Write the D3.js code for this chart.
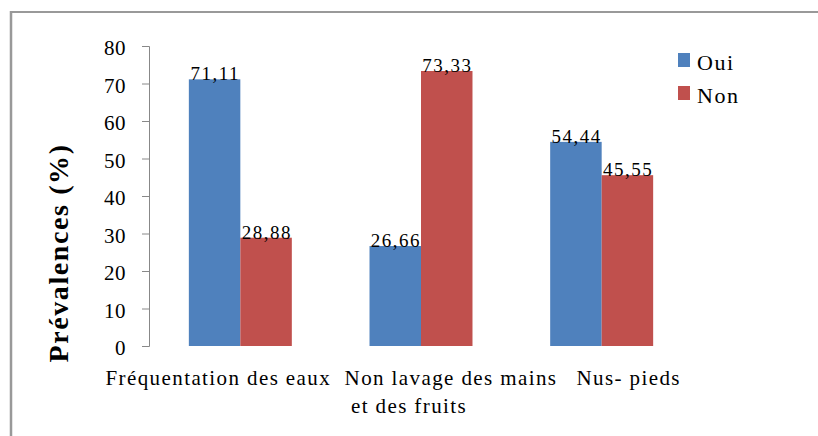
<!DOCTYPE html>
<html>
<head>
<meta charset="utf-8">
<script src="https://cdn.jsdelivr.net/npm/d3@7"></script>
<style>
  html, body { margin: 0; padding: 0; background: #fff; }
  svg { display: block; }
</style>
</head>
<body>
<svg id="chart" width="818" height="436"></svg>
<script>
// Prévalences par facteur de risque
const categories = ["Fréquentation des eaux", "Non lavage des mains|et des fruits", "Nus- pieds"];
const seriesNames = ["Oui", "Non"];
const oui = [71.11, 26.66, 54.44];
const non = [28.88, 73.33, 45.55];
const valueLabels = [["71,11", "26,66", "54,44"], ["28,88", "73,33", "45,55"]];
const yTicks = [0, 10, 20, 30, 40, 50, 60, 70, 80];
const colors = ["#4F81BD", "#C0504D"];

const FONT = "'Liberation Serif', 'Times New Roman', 'DejaVu Serif', serif";

const svg = d3.select("#chart");
const W = 818, H = 436;

// outer frame: only top and left edges visible
svg.append("line").attr("x1", 10).attr("x2", W).attr("y1", 12).attr("y2", 12)
  .attr("stroke", "#999").attr("stroke-width", 2);
svg.append("line").attr("x1", 11).attr("x2", 11).attr("y1", 11).attr("y2", H)
  .attr("stroke", "#999").attr("stroke-width", 2.5);

const plot = { left: 150, right: 692, top: 46, bottom: 346 };

const x0 = d3.scaleBand().domain(d3.range(categories.length))
  .range([plot.left, plot.right]).paddingInner(0.43).paddingOuter(0.215);
const x1 = d3.scaleBand().domain(d3.range(seriesNames.length))
  .range([0, x0.bandwidth()]);
const y = d3.scaleLinear().domain([0, 80]).range([plot.bottom, plot.top]);

// y axis
const yAxis = d3.axisLeft(y).tickValues(yTicks).tickSize(7).tickPadding(16)
  .tickFormat(d3.format("d"));
const gy = svg.append("g").attr("transform", `translate(${plot.left - 1},0)`).call(yAxis)
  .attr("font-family", FONT);
gy.select(".domain").attr("stroke", "#888").attr("d", `M-7,${plot.top}.5H0.5V${plot.bottom}.5H-7`);
gy.selectAll(".tick line").attr("stroke", "#888");
gy.selectAll(".tick text").attr("font-size", 21).attr("dy", "0.42em")
  .attr("font-family", FONT).attr("fill", "#000").attr("letter-spacing", 0.5);

// bars
const data = [oui, non];
const groups = svg.append("g").selectAll("g")
  .data(categories).join("g")
  .attr("transform", (d, i) => `translate(${x0(i)},0)`);

groups.each(function (c, i) {
  const g = d3.select(this);
  seriesNames.forEach((s, j) => {
    const v = data[j][i];
    g.append("rect")
      .attr("x", x1(j)).attr("width", x1.bandwidth())
      .attr("y", y(v)).attr("height", y(0) - y(v))
      .attr("fill", colors[j]);
    g.append("text")
      .attr("x", x1(j) + x1.bandwidth() / 2 + 0.7).attr("y", y(v) + 1)
      .attr("text-anchor", "middle").attr("font-size", 19)
      .attr("letter-spacing", 1.5)
      .attr("font-family", FONT)
      .text(valueLabels[j][i]);
  });
});

// category labels
const labelShift = [-22, 30, 27];
categories.forEach((c, i) => {
  const lines = c.split("|");
  const t = svg.append("text")
    .attr("text-anchor", "middle").attr("font-size", 21)
    .attr("letter-spacing", 1.4)
    .attr("font-family", FONT)
    .attr("y", 385);
  lines.forEach((ln, k) => {
    t.append("tspan")
      .attr("x", x0(i) + x0.bandwidth() / 2 + labelShift[i] + (k > 0 ? -42 : 0))
      .attr("dy", k === 0 ? 0 : 28)
      .text(ln);
  });
});

// y title
svg.append("text")
  .attr("transform", "translate(68,253) rotate(-90)")
  .attr("text-anchor", "middle").attr("font-size", 28).attr("font-weight", "bold")
  .attr("letter-spacing", 1.6)
  .attr("font-family", FONT)
  .text("Prévalences (%)");

// legend
const legend = svg.append("g").attr("transform", "translate(678,53)");
seriesNames.forEach((s, j) => {
  legend.append("rect").attr("x", 0).attr("y", j * 33)
    .attr("width", 12).attr("height", 14).attr("fill", colors[j]);
  legend.append("text").attr("x", 19).attr("y", j * 33 + 17)
    .attr("font-size", 22).attr("letter-spacing", 1.5)
    .attr("font-family", FONT).text(s);
});
</script>
</body>
</html>
